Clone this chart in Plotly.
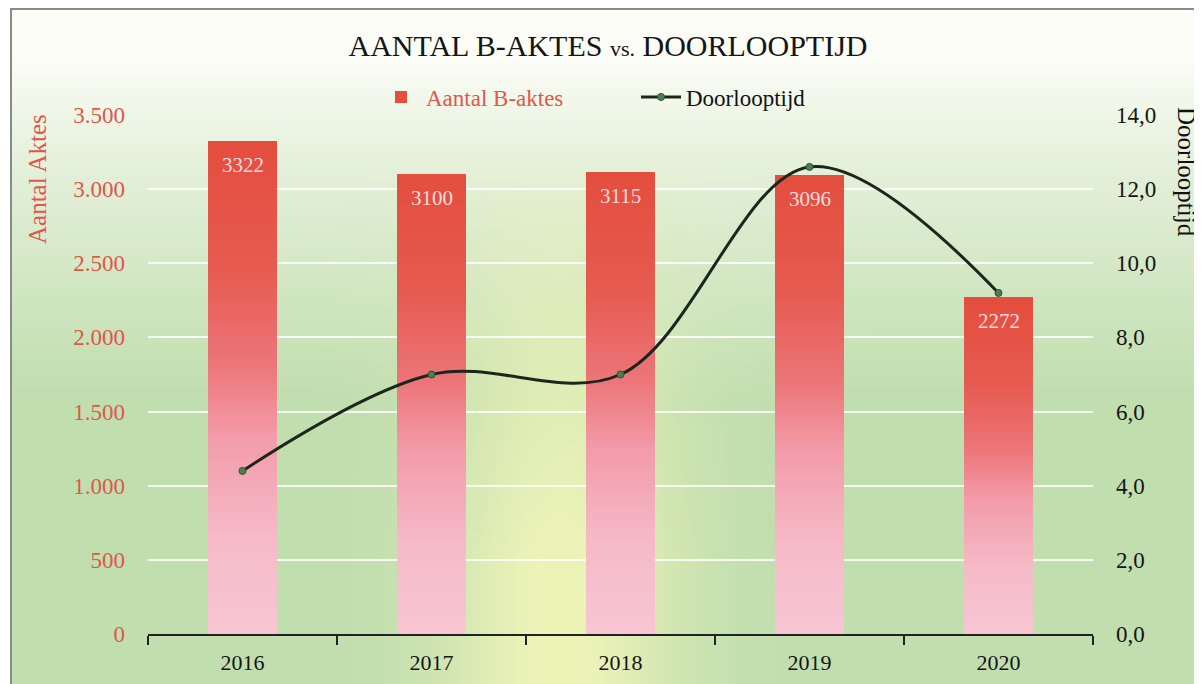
import base64, struct, zlib
import numpy as np
import plotly.graph_objects as go

# ---------------- data ----------------
years = ["2016", "2017", "2018", "2019", "2020"]
aktes = [3322, 3100, 3115, 3096, 2272]
doorlooptijd = [4.4, 7.0, 7.0, 12.6, 9.2]

SERIF = "Liberation Serif"
RED_TXT = "#e0574a"

# ---------------- background gradient image ----------------
def make_png(arr):
    h, w, _ = arr.shape
    raw = b"".join(b"\x00" + arr[i].astype(np.uint8).tobytes() for i in range(h))
    def chunk(tag, data):
        c = struct.pack(">I", len(data)) + tag + data
        return c + struct.pack(">I", zlib.crc32(tag + data) & 0xffffffff)
    png = b"\x89PNG\r\n\x1a\n"
    png += chunk(b"IHDR", struct.pack(">IIBBBBB", w, h, 8, 2, 0, 0, 0))
    png += chunk(b"IDAT", zlib.compress(raw, 9))
    png += chunk(b"IEND", b"")
    return "data:image/png;base64," + base64.b64encode(png).decode()

W, H = 240, 136
u = np.linspace(0, 1, W)[None, :]
v = np.linspace(0, 1, H)[:, None]
top = np.array([252, 253, 247], float)
green = np.array([193, 222, 175], float)
yellow = np.array([238, 244, 184], float)
t = np.clip((v - 0.08) / 0.5, 0, 1) ** 0.8
base = top[None, None, :] + (green - top)[None, None, :] * t[..., None]
wy = np.exp(-((u - 0.46) / 0.10) ** 2) * np.clip((v - 0.2) / 0.6, 0, 1) ** 0.8
img = base + (yellow[None, None, :] - base) * (wy[..., None] * np.ones((H, W, 1)))
img = np.broadcast_to(img, (H, W, 3))
bg_uri = make_png(np.clip(img, 0, 255))

# screen geometry (page body has an 8px offset)
OFF = 8
PL, PR, PT, PB = 148, 1093, 115, 634          # plot area in screen pixels
FW, FH = 1202, 684
pw, ph = PR - PL, PB - PT
def px(x): return (x - PL) / pw
def py(y): return (PB - y) / ph

fig = go.Figure()

# ---------------- gradient bars (overlayed layers) ----------------
stops_p = [0.0, 0.2, 0.4, 0.55, 0.75, 1.0]
stops_c = np.array([[248, 198, 212], [246, 186, 200], [243, 156, 170],
                    [236, 118, 122], [230, 90, 80], [228, 78, 62]], float)
def grad(p):
    return [np.interp(p, stops_p, stops_c[:, j]) for j in range(3)]

N = 100
for k in range(N):
    p = 1 - k / N
    col = "rgb(%d,%d,%d)" % tuple(round(c) for c in grad(p))
    fig.add_trace(go.Bar(
        x=years, y=[a * p for a in aktes], width=0.37,
        marker=dict(color=col, line=dict(width=0)),
        name="<span style='color:%s;font-family:%s'>Aantal B-aktes</span>" % (RED_TXT, SERIF),
        showlegend=(k == 0), legendgroup="bars", hoverinfo="skip",
        yaxis="y",
    ))

# ---------------- line ----------------
fig.add_trace(go.Scatter(
    x=years, y=doorlooptijd, mode="lines+markers",
    name="<span style='font-family:%s'>Doorlooptijd</span>" % SERIF,
    line=dict(color="#1d261d", width=3, shape="spline", smoothing=1.0),
    marker=dict(color="#4f7f4f", size=7, line=dict(color="#2f4f2f", width=1)),
    yaxis="y2",
))

# ---------------- bar value labels ----------------
for i, a in enumerate(aktes):
    fig.add_annotation(x=i, y=a, xref="x", yref="y", text=str(a),
                       showarrow=False, yshift=-24, yanchor="middle", xanchor="center",
                       font=dict(family=SERIF, size=21, color="#fadcdc"))

# axis titles placed like the reference (near the top)
fig.add_annotation(x=px(37), y=py(179), xref="paper", yref="paper",
                   xanchor="center", yanchor="middle",
                   text="Aantal Aktes", textangle=-90, showarrow=False,
                   font=dict(family=SERIF, size=25, color=RED_TXT))
fig.add_annotation(x=px(1187), y=py(172), xref="paper", yref="paper",
                   xanchor="center", yanchor="middle",
                   text="Doorlooptijd", textangle=90, showarrow=False,
                   font=dict(family=SERIF, size=25, color="#111111"))

fig.update_layout(
    width=FW, height=FH,
    font=dict(family=SERIF),
    margin=dict(l=PL - OFF, r=FW - (PR - OFF), t=PT - OFF, b=FH - (PB - OFF),
                autoexpand=False),
    paper_bgcolor="white", plot_bgcolor="rgba(0,0,0,0)",
    barmode="overlay", bargap=0,
    separators=",.",
    title=dict(text="AANTAL B-AKTES <span style='font-size:22px'>vs.</span> DOORLOOPTIJD",
               x=px(608), xref="paper", xanchor="center",
               y=1 - (45 - OFF) / FH, yanchor="middle",
               font=dict(family=SERIF, size=30, color="#151515")),
    legend=dict(orientation="h", x=px(376), xanchor="left", y=py(97), yanchor="middle",
                font=dict(family=SERIF, size=23, color="#111111"),
                bgcolor="rgba(0,0,0,0)", entrywidth=205, traceorder="normal",
                itemwidth=40),
    xaxis=dict(type="category", range=[-0.5, 4.5], automargin=False,
               showline=True, linecolor="#222", linewidth=2,
               ticks="outside", ticklen=9, tickcolor="#222", tickwidth=1.5,
               tickson="boundaries", showgrid=False, tickangle=0,
               ticklabelstandoff=8,
               tickfont=dict(family=SERIF, size=22, color="#151515")),
    yaxis=dict(range=[0, 3500], dtick=500, tickformat=",.0f", automargin=False,
               showgrid=True, gridcolor="rgba(255,255,255,0.85)", gridwidth=2,
               zeroline=False, showline=False, ticks="",
               ticklabelstandoff=22,
               tickfont=dict(family=SERIF, size=23, color=RED_TXT)),
    yaxis2=dict(range=[0, 14], dtick=2, tickformat=".1f", overlaying="y", side="right",
                automargin=False, showgrid=False, zeroline=False, showline=False, ticks="",
                ticklabelstandoff=22,
                tickfont=dict(family=SERIF, size=23, color="#151515")),
    images=[dict(source=bg_uri, xref="paper", yref="paper",
                 x=px(11), y=py(9), sizex=px(1206) - px(11), sizey=py(9) - py(688),
                 xanchor="left", yanchor="top", sizing="stretch", layer="below")],
    shapes=[dict(type="rect", xref="paper", yref="paper",
                 x0=px(11), x1=px(1215), y0=py(695), y1=py(9),
                 line=dict(color="#8a8a8a", width=2), layer="above")],
)

fig.write_html("out.html")
